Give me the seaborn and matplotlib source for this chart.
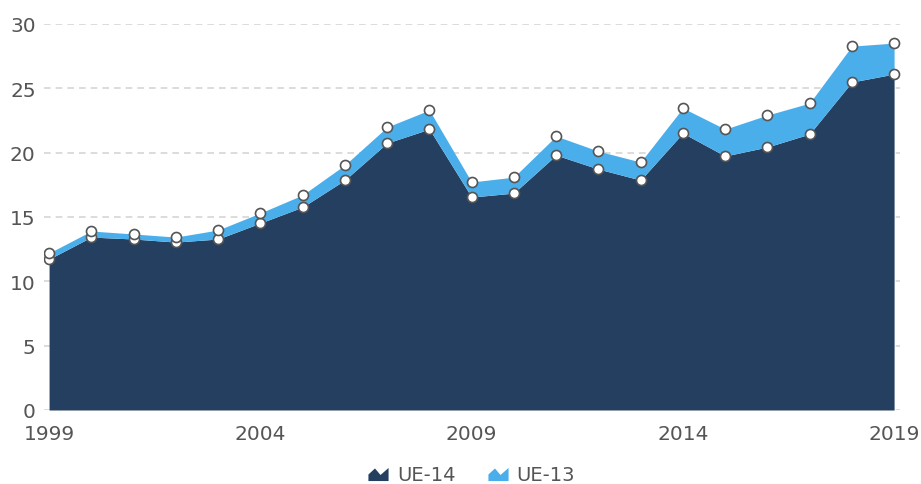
import matplotlib
matplotlib.use("Agg")
import matplotlib.pyplot as plt
import seaborn as sns
import numpy as np
import pandas as pd
from matplotlib.path import Path
from matplotlib.lines import Line2D

years = list(range(1999, 2020))
ue14 = [11.73, 13.44, 13.29, 13.05, 13.29, 14.53, 15.77, 17.87, 20.75, 21.83,
        16.55, 16.86, 19.81, 18.73, 17.87, 21.52, 19.74, 20.44, 21.45, 25.49, 26.11]
total = [12.20, 13.91, 13.68, 13.44, 13.99, 15.31, 16.71, 19.04, 21.99, 23.31,
         17.72, 18.10, 21.29, 20.12, 19.27, 23.47, 21.83, 22.92, 23.85, 28.28, 28.52]
ue13 = [t - a for t, a in zip(total, ue14)]
series_names = ["UE-14", "UE-13"]
xticks = [1999, 2004, 2009, 2014, 2019]
yticks = [0, 5, 10, 15, 20, 25, 30]

c14 = "#243f5f"
c13 = "#4aaeea"

sns.set_theme(style="white")
plt.rcParams['font.family'] = ['DejaVu Sans']

fig = plt.figure(figsize=(9.21, 4.85), dpi=100)
ax = fig.add_axes([44/921, 1-411/485, (900-44)/921, (411-25)/485])

x = np.array(years)
lo = np.array(ue14)
hi = lo + np.array(ue13)
ax.fill_between(x, 0, lo, color=c14, lw=0, zorder=2)
ax.fill_between(x, lo, hi, color=c13, lw=0, zorder=2)

df = pd.DataFrame({"year": years * 2, "val": list(lo) + list(hi)})
sns.scatterplot(data=df, x="year", y="val", ax=ax, s=52, color="white",
                edgecolor="#555555", linewidth=1.2, zorder=4, legend=False)

ax.set_xlim(1999 - 0.12, 2019 + 0.14)
ax.set_ylim(0, 30)
ax.set_xticks(xticks)
ax.set_xticklabels([str(v) for v in xticks])
ax.set_yticks(yticks)
ax.set_xlabel("")
ax.set_ylabel("")
for s in ax.spines.values():
    s.set_visible(False)
ax.yaxis.grid(True, color="#d6d6d6", linestyle=(0, (4, 3)), linewidth=1.2, zorder=0)
ax.xaxis.grid(False)
ax.tick_params(axis="both", colors="#555555", labelsize=14.5, length=0)
ax.tick_params(axis="y", pad=6)
ax.tick_params(axis="x", pad=10)
for lab in ax.get_yticklabels():
    lab.set_color("#555555")
for lab in ax.get_xticklabels():
    lab.set_color("#555555")

mountain = Path([(-1, -0.65), (-1, 0.0), (-0.35, 0.6), (0.2, -0.05), (1, 0.65), (1, -0.65), (-1, -0.65)],
                [Path.MOVETO, Path.LINETO, Path.LINETO, Path.LINETO, Path.LINETO, Path.LINETO, Path.CLOSEPOLY])
handles = [Line2D([], [], marker=mountain, color=c, markersize=14.5, linestyle="none", markeredgewidth=0)
           for c in (c14, c13)]
fig.legend(handles, series_names, loc="center", bbox_to_anchor=(471/921, 1-476/485), ncol=2,
           frameon=False, fontsize=14, labelcolor="#555555", handlelength=1.2,
           handletextpad=0.35, columnspacing=1.6)

fig.savefig("out.png", dpi=100)
